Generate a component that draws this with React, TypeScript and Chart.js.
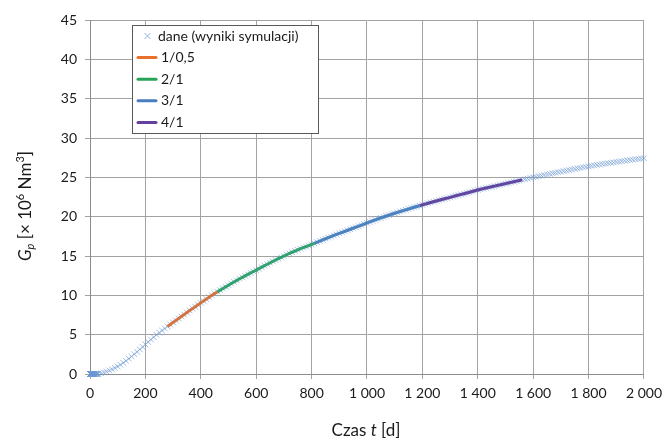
import React, { useEffect, useRef } from "react";
import { Chart, registerables } from "chart.js";

Chart.register(...registerables);

// Simulation output: time [d] (fine time steps at the start of the run)
const timeDays: number[] = [
  0, 0.25, 0.5, 0.75, 1, 1.5, 2, 2.5, 3, 3.5, 4, 5, 6, 7, 8, 9, 10, 11, 12, 13, 14, 15, 16, 18, 20, 22, 24, 26, 28, 30,
  40, 50, 60, 70, 80, 90, 100, 110, 120, 130, 140, 150, 160, 170, 180, 190,
  200, 210, 220, 230, 240, 250, 260, 270, 280, 290, 300, 310, 320, 330, 340, 350,
  360, 370, 380, 390, 400, 410, 420, 430, 440, 450, 460, 470, 480, 490, 500,
  510, 520, 530, 540, 550, 560, 570, 580, 590, 600, 610, 620, 630, 640, 650,
  660, 670, 680, 690, 700, 710, 720, 730, 740, 750, 760, 770, 780, 790, 800,
  810, 820, 830, 840, 850, 860, 870, 880, 890, 900, 910, 920, 930, 940, 950,
  960, 970, 980, 990, 1000, 1010, 1020, 1030, 1040, 1050, 1060, 1070, 1080, 1090, 1100,
  1110, 1120, 1130, 1140, 1150, 1160, 1170, 1180, 1190, 1200, 1210, 1220, 1230, 1240, 1250,
  1260, 1270, 1280, 1290, 1300, 1310, 1320, 1330, 1340, 1350, 1360, 1370, 1380, 1390, 1400,
  1410, 1420, 1430, 1440, 1450, 1460, 1470, 1480, 1490, 1500, 1510, 1520, 1530, 1540, 1550,
  1560, 1570, 1580, 1590, 1600, 1610, 1620, 1630, 1640, 1650, 1660, 1670, 1680, 1690, 1700,
  1710, 1720, 1730, 1740, 1750, 1760, 1770, 1780, 1790, 1800, 1810, 1820, 1830, 1840, 1850,
  1860, 1870, 1880, 1890, 1900, 1910, 1920, 1930, 1940, 1950, 1960, 1970, 1980, 1990, 2000,
];

// Simulation output: cumulative production Gp [x 10^6 Nm3]
const gpValues: number[] = [
  0, 0, 0, 0, 0, 0, 0, 0, 0, 0, 0, 0, 0, 0, 0, 0, 0, 0, 0, 0, 0, 0, 0, 0, 0, 0, 0, 0, 0.02, 0.03,
  0.1, 0.2, 0.32, 0.45, 0.6, 0.77, 0.95, 1.18, 1.42, 1.68, 1.95, 2.23, 2.52, 2.82, 3.12, 3.44,
  3.76, 4.07, 4.38, 4.68, 4.98, 5.26, 5.52, 5.78, 6.04, 6.3, 6.56, 6.81, 7.06, 7.31, 7.56, 7.81,
  8.06, 8.31, 8.56, 8.8, 9.04, 9.28, 9.52, 9.76, 10.0, 10.22, 10.44, 10.66, 10.87, 11.08, 11.29,
  11.5, 11.7, 11.9, 12.1, 12.29, 12.48, 12.67, 12.85, 13.03, 13.2, 13.39, 13.58, 13.77, 13.95, 14.13,
  14.31, 14.49, 14.66, 14.83, 15.0, 15.16, 15.32, 15.48, 15.63, 15.78, 15.93, 16.07, 16.2, 16.33, 16.47,
  16.61, 16.75, 16.9, 17.05, 17.19, 17.33, 17.47, 17.61, 17.75, 17.88, 18.01, 18.14, 18.27, 18.4, 18.53,
  18.66, 18.79, 18.92, 19.06, 19.2, 19.33, 19.46, 19.59, 19.72, 19.84, 19.96, 20.08, 20.2, 20.32, 20.43,
  20.54, 20.65, 20.76, 20.87, 20.98, 21.09, 21.19, 21.29, 21.39, 21.5, 21.6, 21.7, 21.8, 21.9, 22.0,
  22.09, 22.18, 22.27, 22.36, 22.45, 22.55, 22.65, 22.74, 22.83, 22.92, 23.01, 23.1, 23.2, 23.3, 23.4,
  23.48, 23.56, 23.64, 23.72, 23.8, 23.88, 23.96, 24.04, 24.12, 24.2, 24.28, 24.36, 24.44, 24.52, 24.6,
  24.68, 24.76, 24.84, 24.92, 25.0, 25.07, 25.15, 25.22, 25.3, 25.37, 25.44, 25.51, 25.58, 25.65, 25.72,
  25.79, 25.86, 25.93, 26.0, 26.07, 26.14, 26.2, 26.27, 26.33, 26.4, 26.46, 26.52, 26.58, 26.63, 26.69,
  26.74, 26.8, 26.85, 26.9, 26.95, 27.0, 27.05, 27.1, 27.15, 27.2, 27.25, 27.3, 27.34, 27.39, 27.43,
];

// Fitted-model windows (ratio labels and time ranges in days)
const fitLabels: string[] = ["1/0,5", "2/1", "3/1", "4/1"];
const fitStart: number[] = [280, 460, 810, 1190];
const fitEnd: number[] = [460, 810, 1190, 1560];
const fitColors: string[] = ["#E8702C", "#25A45A", "#4A7EBE", "#63409E"];
const fitPlotColors: string[] = [
  "rgba(214,108,48,0.9)",
  "rgba(36,158,96,0.9)",
  "rgba(70,126,190,0.95)",
  "rgba(94,62,156,0.95)",
];

const dataLabel = "dane (wyniki symulacji)";
const xTicks: number[] = [0, 200, 400, 600, 800, 1000, 1200, 1400, 1600, 1800, 2000];
const yTicks: number[] = [0, 5, 10, 15, 20, 25, 30, 35, 40, 45];

const FONT = "Lato, 'Open Sans', 'DejaVu Sans', sans-serif";
const markerColor = "rgba(105,150,212,0.62)";

function fmtThousands(v: number): string {
  if (v >= 1000) {
    return `${Math.floor(v / 1000)} ${String(v % 1000).padStart(3, "0")}`;
  }
  return String(v);
}

type Seg = { text: string; italic?: boolean; shift?: number; size?: number };

function drawRich(ctx: CanvasRenderingContext2D, segs: Seg[], baseSize: number) {
  const fontFor = (s: Seg) => `${s.italic ? "italic " : ""}${s.size ?? baseSize}px ${FONT}`;
  let total = 0;
  const widths = segs.map((s) => {
    ctx.font = fontFor(s);
    const w = ctx.measureText(s.text).width;
    total += w;
    return w;
  });
  let x = -total / 2;
  segs.forEach((s, i) => {
    ctx.font = fontFor(s);
    ctx.fillText(s.text, x, s.shift ?? 0);
    x += widths[i];
  });
}

const decorPlugin = {
  id: "decor",
  afterDraw(chart: any) {
    const ctx: CanvasRenderingContext2D = chart.ctx;
    ctx.save();
    ctx.fillStyle = "#1a1a1a";
    ctx.textBaseline = "middle";
    ctx.textAlign = "left";

    // X axis title
    ctx.save();
    ctx.translate(366, 431);
    drawRich(ctx, [{ text: "Czas " }, { text: "t", italic: true }, { text: " [d]" }], 17);
    ctx.restore();

    // Y axis title
    ctx.save();
    ctx.translate(26, 206);
    ctx.rotate(-Math.PI / 2);
    drawRich(
      ctx,
      [
        { text: "G", italic: true },
        { text: "p", italic: true, size: 11, shift: 4 },
        { text: " [× 10" },
        { text: "6", size: 11, shift: -6 },
        { text: " Nm" },
        { text: "3", size: 11, shift: -6 },
        { text: "]" },
      ],
      17
    );
    ctx.restore();

    // Legend box
    const bx = 132.5, by = 25.5, bw = 186, bh = 108;
    ctx.fillStyle = "#ffffff";
    ctx.fillRect(bx, by, bw, bh);
    ctx.strokeStyle = "#595959";
    ctx.lineWidth = 1;
    ctx.strokeRect(bx, by, bw, bh);

    const rowY = (i: number) => 36 + i * 21.6;
    ctx.font = `14px ${FONT}`;
    ctx.fillStyle = "#1a1a1a";
    const mx = 147.5, my = rowY(0);
    ctx.strokeStyle = "rgba(120,160,215,0.8)";
    ctx.lineWidth = 1;
    ctx.beginPath();
    ctx.moveTo(mx - 3, my - 3);
    ctx.lineTo(mx + 3, my + 3);
    ctx.moveTo(mx - 3, my + 3);
    ctx.lineTo(mx + 3, my - 3);
    ctx.stroke();
    ctx.fillText(dataLabel, 158, my);
    fitLabels.forEach((lab, i) => {
      const y = rowY(i + 1);
      ctx.strokeStyle = fitColors[i];
      ctx.lineWidth = 3;
      ctx.lineCap = "round";
      ctx.beginPath();
      ctx.moveTo(138, y);
      ctx.lineTo(156, y);
      ctx.stroke();
      ctx.fillText(lab, 161, y);
    });
    ctx.restore();
  },
};

export default function App() {
  const ref = useRef<HTMLCanvasElement | null>(null);

  useEffect(() => {
    if (!ref.current) return;
    const points = timeDays.map((t, i) => ({ x: t, y: gpValues[i] }));
    const fitSets = fitLabels.map((lab, k) => ({
      type: "line" as const,
      label: lab,
      data: points.filter((p) => p.x >= fitStart[k] && p.x <= fitEnd[k]),
      borderColor: fitPlotColors[k],
      backgroundColor: fitPlotColors[k],
      borderWidth: 3,
      pointRadius: 0,
      showLine: true,
      fill: false,
      tension: 0,
      order: 1,
    }));

    const chart = new Chart(ref.current, {
      type: "scatter",
      data: {
        datasets: [
          ...fitSets,
          {
            type: "scatter" as const,
            label: dataLabel,
            data: points,
            pointStyle: "crossRot",
            pointRadius: 4,
            pointBorderWidth: 1,
            borderColor: markerColor,
            backgroundColor: markerColor,
            showLine: false,
            clip: false,
            order: 10,
          },
        ],
      } as any,
      options: {
        responsive: false,
        animation: false,
        devicePixelRatio: 1,
        layout: { padding: { left: 0, top: 20, right: 19, bottom: 0 } },
        plugins: {
          legend: { display: false },
          tooltip: { enabled: false },
          title: { display: false },
        },
        scales: {
          x: {
            type: "linear",
            min: 0,
            max: 2000,
            afterBuildTicks: (s: any) => {
              s.ticks = xTicks.map((v) => ({ value: v }));
            },
            afterFit: (s: any) => {
              s.height = 67;
            },
            ticks: {
              callback: (v: any) => fmtThousands(Number(v)),
              font: { family: FONT, size: 14 },
              color: "#1a1a1a",
              padding: 6,
              maxRotation: 0,
              autoSkip: false,
            },
            grid: { color: "#A3A3A3", lineWidth: 1, tickLength: 5, drawTicks: true },
            border: { color: "#8C8C8C", width: 1 },
          },
          y: {
            type: "linear",
            min: 0,
            max: 45,
            afterBuildTicks: (s: any) => {
              s.ticks = yTicks.map((v) => ({ value: v }));
            },
            afterFit: (s: any) => {
              s.width = 90;
            },
            ticks: {
              font: { family: FONT, size: 14 },
              color: "#1a1a1a",
              padding: 8,
            },
            grid: { color: "#A3A3A3", lineWidth: 1, tickLength: 5, drawTicks: true },
            border: { color: "#8C8C8C", width: 1 },
          },
        },
      } as any,
      plugins: [decorPlugin],
    });
    return () => chart.destroy();
  }, []);

  return (
    <div style={{ position: "fixed", left: 0, top: 0, width: 668, height: 441, background: "#fff" }}>
      <canvas ref={ref} width={668} height={441} style={{ width: 668, height: 441, display: "block" }} />
    </div>
  );
}
